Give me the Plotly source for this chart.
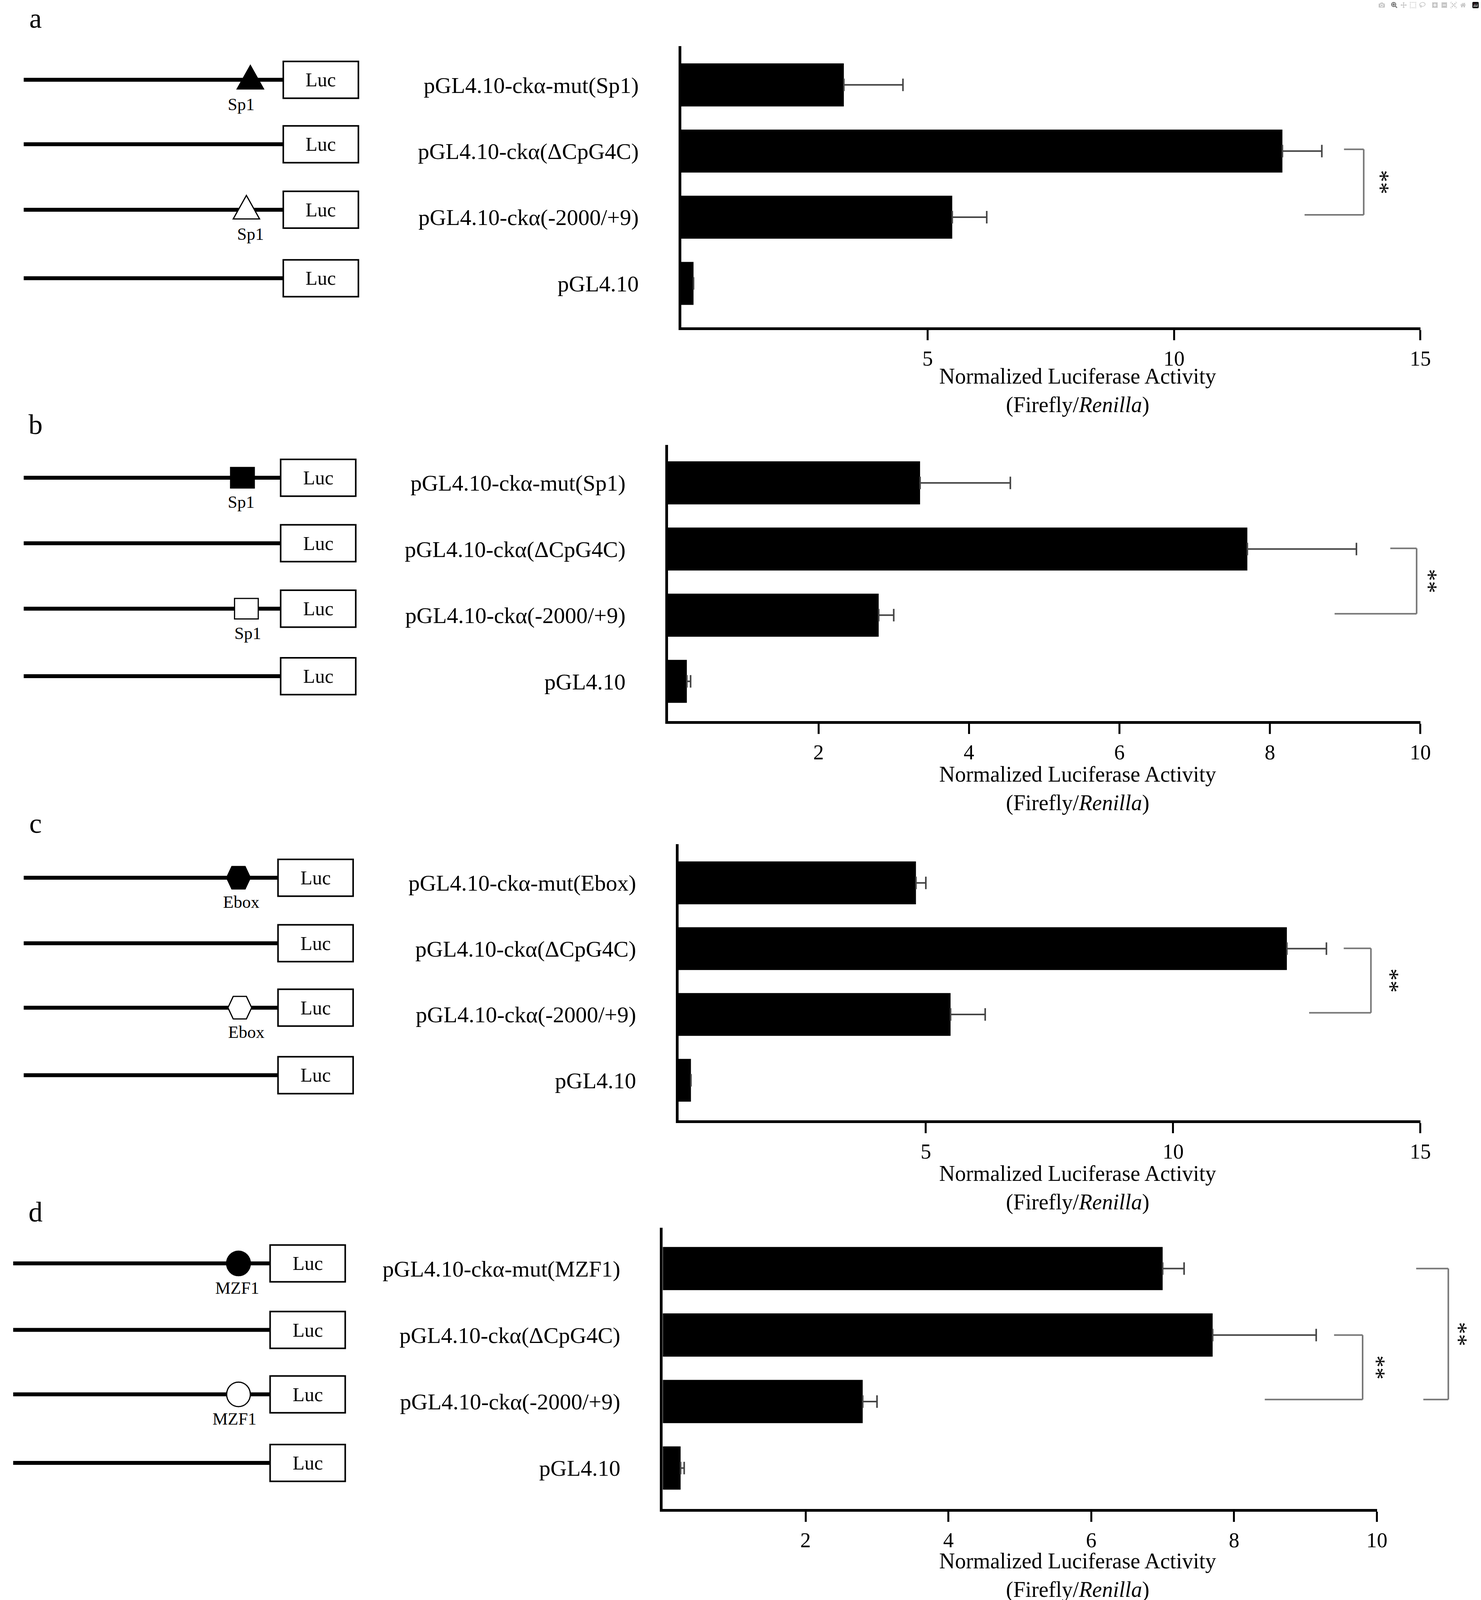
import plotly.graph_objects as go

constructs = ["pGL4.10-ckα-mut(Sp1)", "pGL4.10-ckα(ΔCpG4C)", "pGL4.10-ckα(-2000/+9)", "pGL4.10"]
labels_c = ["pGL4.10-ckα-mut(Ebox)", "pGL4.10-ckα(ΔCpG4C)", "pGL4.10-ckα(-2000/+9)", "pGL4.10"]
labels_d = ["pGL4.10-ckα-mut(MZF1)", "pGL4.10-ckα(ΔCpG4C)", "pGL4.10-ckα(-2000/+9)", "pGL4.10"]

vals_a = [3.3, 12.2, 5.5, 0.25]
errs_a = [1.2, 0.8, 0.7, 0.0]
vals_b = [3.35, 7.7, 2.8, 0.25]
errs_b = [1.2, 1.45, 0.2, 0.05]
vals_c = [4.8, 12.3, 5.5, 0.25]
errs_c = [0.2, 0.8, 0.7, 0.0]
vals_d = [7.0, 7.7, 2.8, 0.25]
errs_d = [0.3, 1.45, 0.2, 0.05]

ticks_a = [5, 10, 15]
ticks_b = [2, 4, 6, 8, 10]

W, H = 3791, 5313
SW, SH = 1116.0, 1564.0


def px(x):
    return x / SW


def py(y):
    return 1 - y / SH


FONT = "Liberation Serif"

# panel geometry in reference pixels (display scale)
panels = [
    dict(letter="a", ly=18, labels=constructs, vals=vals_a, errs=errs_a, xmax=15, ticks=ticks_a,
         x0=517, x1=1078, top=45, bot=320, rows=[83, 146, 210, 277], title_y=372,
         line=(18, 215, 272), site="triangle", site_x=(190, 187), site_lab="Sp1", lab_x=(183, 190),
         brackets=[(1, 13.45, 2, 12.65, 13.85, 14.2)]),
    dict(letter="b", ly=415, labels=constructs, vals=vals_b, errs=errs_b, xmax=10, ticks=ticks_b,
         x0=507, x1=1078, top=435, bot=705, rows=[472, 536, 600, 666], title_y=761,
         line=(18, 213, 270), site="square", site_x=(184, 187), site_lab="Sp1", lab_x=(183, 188),
         brackets=[(1, 9.6, 2, 8.86, 9.95, 10.12)]),
    dict(letter="c", ly=805, labels=labels_c, vals=vals_c, errs=errs_c, xmax=15, ticks=ticks_a,
         x0=515, x1=1078, top=825, bot=1095, rows=[863, 927, 990, 1056], title_y=1151,
         line=(18, 211, 268), site="hexagon", site_x=(181, 182), site_lab="Ebox", lab_x=(183, 187),
         brackets=[(1, 13.45, 2, 12.75, 14.0, 14.4)]),
    dict(letter="d", ly=1185, labels=labels_d, vals=vals_d, errs=errs_d, xmax=10, ticks=ticks_b,
         x0=503, x1=1045, top=1200, bot=1475, rows=[1240, 1305, 1368, 1435], title_y=1530,
         line=(10, 205, 262), site="circle", site_x=(181, 181), site_lab="MZF1", lab_x=(180, 178),
         brackets=[(1, 9.4, 2, 8.43, 9.8, 10.0), (0, 10.55, 2, 10.65, 11.0, 11.15)]),
]

fig = go.Figure()
shapes = []
annotations = []
layout = {}


def note(text, x, y, size, **kw):
    d = dict(text=text, x=x, y=y, xref="paper", yref="paper", showarrow=False,
             xanchor="center", yanchor="middle",
             font=dict(family=FONT, size=size, color="black"))
    d.update(kw)
    annotations.append(d)


for i, p in enumerate(panels, start=1):
    rows = p["rows"]
    step = (rows[-1] - rows[0]) / 3.0
    ytop = (p["top"] - rows[0]) / step
    ybot = (p["bot"] - rows[0]) / step
    xs = "x" if i == 1 else "x%d" % i
    ys = "y" if i == 1 else "y%d" % i
    fig.add_trace(go.Bar(
        x=p["vals"], y=[0, 1, 2, 3], orientation="h", width=0.65,
        marker=dict(color="black", line=dict(width=0)),
        error_x=dict(type="data", array=p["errs"], arrayminus=[0] * 4, symmetric=False,
                     color="#444", thickness=4, width=16),
        xaxis=xs, yaxis=ys, showlegend=False,
    ))
    xd = [px(p["x0"]), px(p["x1"])]
    yd = [py(p["bot"]), py(p["top"])]
    layout["xaxis" if i == 1 else "xaxis%d" % i] = dict(
        domain=xd, range=[0, p["xmax"]], anchor=ys, tickvals=p["ticks"],
        showline=True, linecolor="black", linewidth=7, ticks="outside", ticklen=26,
        tickwidth=5, tickcolor="black", showgrid=False, zeroline=False,
        tickfont=dict(family=FONT, size=54, color="black"),
    )
    layout["yaxis" if i == 1 else "yaxis%d" % i] = dict(
        domain=yd, range=[ybot, ytop], anchor=xs, tickvals=[0, 1, 2, 3],
        ticktext=p["labels"], showline=True, linecolor="black", linewidth=7,
        ticks="", showgrid=False, zeroline=False, ticklabelstandoff=90,
        tickfont=dict(family=FONT, size=58, color="black"),
    )

    def dx(v, p=p):
        return px(p["x0"] + (p["x1"] - p["x0"]) * v / p["xmax"])

    # significance brackets
    for (r1, xa, r2, xb, xv, xt) in p["brackets"]:
        y1, y2 = py(rows[r1]), py(rows[r2])
        sty = dict(type="line", xref="paper", yref="paper", line=dict(color="#777", width=4))
        shapes.append(dict(sty, x0=dx(xa), x1=dx(xv), y0=y1, y1=y1))
        shapes.append(dict(sty, x0=dx(xb), x1=dx(xv), y0=y2, y1=y2))
        shapes.append(dict(sty, x0=dx(xv), x1=dx(xv), y0=y1, y1=y2))
        note("**", dx(xt), (y1 + y2) / 2, 62, textangle=90)

    # axis title
    note("Normalized Luciferase Activity<br>(Firefly/<i>Renilla</i>)",
         px(818), py(p["title_y"] + 10), 56)
    # panel letter
    note(p["letter"], px(27), py(p["ly"]), 72)

    # construct diagrams
    lx0, bx0, bx1 = p["line"]
    for r, yy in enumerate(rows):
        shapes.append(dict(type="line", xref="paper", yref="paper", x0=px(lx0), x1=px(bx0),
                           y0=py(yy - 5), y1=py(yy - 5), line=dict(color="black", width=10)))
        shapes.append(dict(type="rect", xref="paper", yref="paper", x0=px(bx0), x1=px(bx1),
                           y0=py(yy + 13), y1=py(yy - 23), line=dict(color="black", width=4),
                           fillcolor="white"))
        note("Luc", px((bx0 + bx1) / 2), py(yy - 5), 50)
    for k, r in enumerate([0, 2]):
        cx = p["site_x"][k]
        cy = rows[r] - 5
        fill = "black" if k == 0 else "white"
        sty = dict(xref="paper", yref="paper", fillcolor=fill, line=dict(color="black", width=3))
        if p["site"] == "triangle":
            path = "M %f %f L %f %f L %f %f Z" % (px(cx), py(cy - 14), px(cx - 10), py(cy + 9),
                                                 px(cx + 10), py(cy + 9))
            shapes.append(dict(sty, type="path", path=path))
        elif p["site"] == "square":
            shapes.append(dict(sty, type="rect", x0=px(cx - 9), x1=px(cx + 9), y0=py(cy + 10), y1=py(cy - 10)))
        elif p["site"] == "hexagon":
            pts = [(cx - 5, cy - 11), (cx + 5, cy - 11), (cx + 9, cy), (cx + 5, cy + 11),
                   (cx - 5, cy + 11), (cx - 9, cy)]
            path = "M " + " L ".join("%f %f" % (px(a), py(b)) for a, b in pts) + " Z"
            shapes.append(dict(sty, type="path", path=path))
        else:
            shapes.append(dict(sty, type="circle", x0=px(cx - 9), x1=px(cx + 9), y0=py(cy + 12), y1=py(cy - 12)))
        note(p["site_lab"], px(p["lab_x"][k]), py(cy + 24), 44)

fig.update_layout(
    width=W, height=H, paper_bgcolor="white", plot_bgcolor="white",
    margin=dict(l=0, r=0, t=0, b=0), shapes=shapes, annotations=annotations,
    **layout,
)

# fit the figure to the window actually used for the photo
fit = (
    "document.body.style.margin='0';"
    "var gd=document.getElementById('{plot_id}');"
    "Plotly.relayout(gd,{width:window.innerWidth,height:window.innerHeight});"
)
fig.write_html("out.html", post_script=fit)
